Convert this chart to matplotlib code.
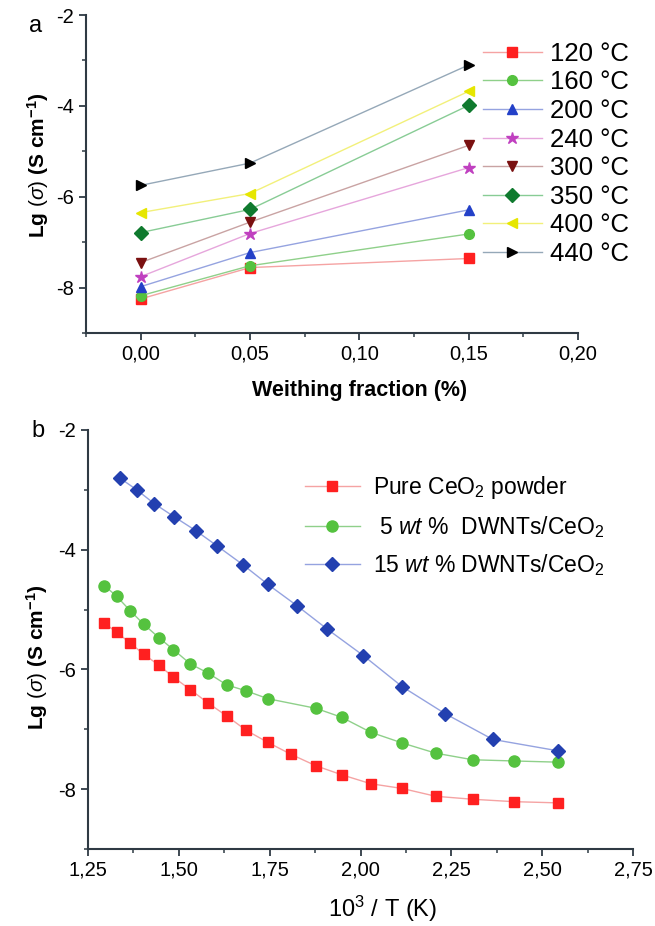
import matplotlib
matplotlib.use("Agg")
import matplotlib.pyplot as plt
from matplotlib.ticker import FuncFormatter, MultipleLocator

plt.rcParams['font.family'] = ['Liberation Sans', 'DejaVu Sans']
plt.rcParams['mathtext.fontset'] = 'custom'
plt.rcParams['mathtext.rm'] = 'Liberation Sans'
plt.rcParams['mathtext.it'] = 'Liberation Sans:italic'
plt.rcParams['mathtext.bf'] = 'Liberation Sans:bold'

# panel a: conductivity vs weight fraction
frac = [0.00, 0.05, 0.15]
temps = ['120 °C', '160 °C', '200 °C', '240 °C', '300 °C', '350 °C', '400 °C', '440 °C']
lg_a = [
    [-8.25, -7.56, -7.36],
    [-8.18, -7.52, -6.82],
    [-7.98, -7.23, -6.29],
    [-7.76, -6.81, -5.36],
    [-7.45, -6.56, -4.87],
    [-6.79, -6.28, -3.99],
    [-6.35, -5.93, -3.68],
    [-5.75, -5.26, -3.10],
]
markers_a = ['s', 'o', '^', '*', 'v', 'D', '<', '>']
mcolors_a = ['#ff2020', '#55c23f', '#2340c8', '#c040c0', '#7a1010', '#0f7a2e', '#e6e600', '#000000']
lcolors_a = ['#f5a3a3', '#8fd08a', '#95a3e0', '#e6a6dc', '#c9a3a3', '#88cc95', '#f2f07a', '#95a8b8']

# panel b: conductivity vs 1000/T
inv_t_pure = [1.295, 1.329, 1.366, 1.404, 1.445, 1.485, 1.532, 1.580, 1.632, 1.686,
              1.745, 1.809, 1.877, 1.948, 2.028, 2.115, 2.207, 2.309, 2.422, 2.543]
lg_pure = [-5.23, -5.38, -5.56, -5.75, -5.93, -6.13, -6.34, -6.56, -6.78, -7.02,
           -7.22, -7.42, -7.61, -7.76, -7.91, -7.99, -8.12, -8.17, -8.21, -8.23]
inv_t_5 = [1.295, 1.329, 1.366, 1.404, 1.445, 1.485, 1.532, 1.580, 1.632, 1.686,
           1.745, 1.877, 1.948, 2.028, 2.115, 2.207, 2.309, 2.422, 2.543]
lg_5 = [-4.60, -4.78, -5.02, -5.25, -5.47, -5.67, -5.91, -6.06, -6.26, -6.36,
        -6.49, -6.65, -6.80, -7.05, -7.23, -7.40, -7.51, -7.53, -7.55]
inv_t_15 = [1.339, 1.384, 1.432, 1.487, 1.546, 1.606, 1.676, 1.745, 1.826, 1.909,
            2.008, 2.115, 2.233, 2.364, 2.543]
lg_15 = [-2.81, -3.00, -3.23, -3.45, -3.68, -3.94, -4.25, -4.58, -4.94, -5.33,
         -5.77, -6.29, -6.74, -7.17, -7.36]
labels_b = ['Pure CeO$_2$ powder', ' 5 $\\mathit{wt}$ %  DWNTs/CeO$_2$', '15 $\\mathit{wt}$ % DWNTs/CeO$_2$']

spine_col = '#2f3a44'
ylabel = r'$\mathbf{Lg}$ ($\sigma$) $\mathbf{(S\ cm^{-1})}$'


def comma(v, nd):
    return f"{v:.{nd}f}".replace('.', ',')


def style_axes(ax):
    for s in ['top', 'right']:
        ax.spines[s].set_visible(False)
    for s in ['left', 'bottom']:
        ax.spines[s].set_color(spine_col)
        ax.spines[s].set_linewidth(1.5)
    ax.tick_params(which='major', direction='out', length=5, width=1.3, color=spine_col, labelsize=14.5)
    ax.tick_params(which='minor', direction='out', length=3, width=1.1, color=spine_col)
    ax.yaxis.set_major_locator(MultipleLocator(2))
    ax.yaxis.set_minor_locator(MultipleLocator(1))
    ax.yaxis.set_major_formatter(FuncFormatter(lambda v, p: f"{v:.0f}"))


fig = plt.figure(figsize=(6.55, 9.26), dpi=100)

ax1 = fig.add_axes([0.1313, 0.6404, 0.7511, 0.3434])
for i in range(len(temps)):
    ms = 9 if markers_a[i] == '*' else 7
    ax1.plot(frac, lg_a[i], color=lcolors_a[i], lw=1.0, marker=markers_a[i], ms=ms,
             mfc=mcolors_a[i], mec=mcolors_a[i], label=temps[i])
ax1.set_xlim(-0.025, 0.20)
ax1.set_ylim(-9, -2)
style_axes(ax1)
ax1.xaxis.set_major_locator(MultipleLocator(0.05))
ax1.xaxis.set_minor_locator(MultipleLocator(0.025))
ax1.xaxis.set_major_formatter(FuncFormatter(lambda v, p: comma(v, 2)))
ax1.set_xlabel('Weithing fraction (%)', fontsize=15.5, fontweight='bold', labelpad=12)
ax1.xaxis.label.set_x(0.557)
ax1.set_ylabel(ylabel, fontsize=15, labelpad=4)
ax1.yaxis.label.set_y(0.528)
ax1.legend(loc='upper left', bbox_to_anchor=(0.737, 0.955), bbox_transform=fig.transFigure,
           frameon=False, fontsize=18.5, handlelength=2.3, labelspacing=0.18, handletextpad=0.3,
           borderaxespad=0, borderpad=0)
fig.text(0.045, 0.972, 'a', fontsize=17, va='center')

ax2 = fig.add_axes([0.1344, 0.0832, 0.832, 0.4525])
ax2.plot(inv_t_pure, lg_pure, color='#f5a3a3', lw=1.0, marker='s', ms=7,
         mfc='#ff2020', mec='#ff2020', label=labels_b[0])
ax2.plot(inv_t_5, lg_5, color='#8fd08a', lw=1.0, marker='o', ms=8,
         mfc='#55c23f', mec='#55c23f', label=labels_b[1])
ax2.plot(inv_t_15, lg_15, color='#95a3e0', lw=1.0, marker='D', ms=7,
         mfc='#2340b0', mec='#2340b0', label=labels_b[2])
ax2.set_xlim(1.25, 2.75)
ax2.set_ylim(-9, -2)
style_axes(ax2)
ax2.xaxis.set_major_locator(MultipleLocator(0.25))
ax2.xaxis.set_minor_locator(MultipleLocator(0.125))
ax2.xaxis.set_major_formatter(FuncFormatter(lambda v, p: comma(v, 2)))
ax2.set_xlabel('10$^3$ / T (K)', fontsize=17, labelpad=10)
ax2.xaxis.label.set_x(0.541)
ax2.set_ylabel(ylabel, fontsize=15, labelpad=6)
ax2.yaxis.label.set_y(0.458)
ax2.legend(loc='upper left', bbox_to_anchor=(0.465, 0.488), bbox_transform=fig.transFigure,
           frameon=False, fontsize=16.5, handlelength=2.4, labelspacing=0.55, handletextpad=0.6,
           borderaxespad=0, borderpad=0)
fig.text(0.048, 0.535, 'b', fontsize=17, va='center')

fig.savefig('out.png', dpi=100)
